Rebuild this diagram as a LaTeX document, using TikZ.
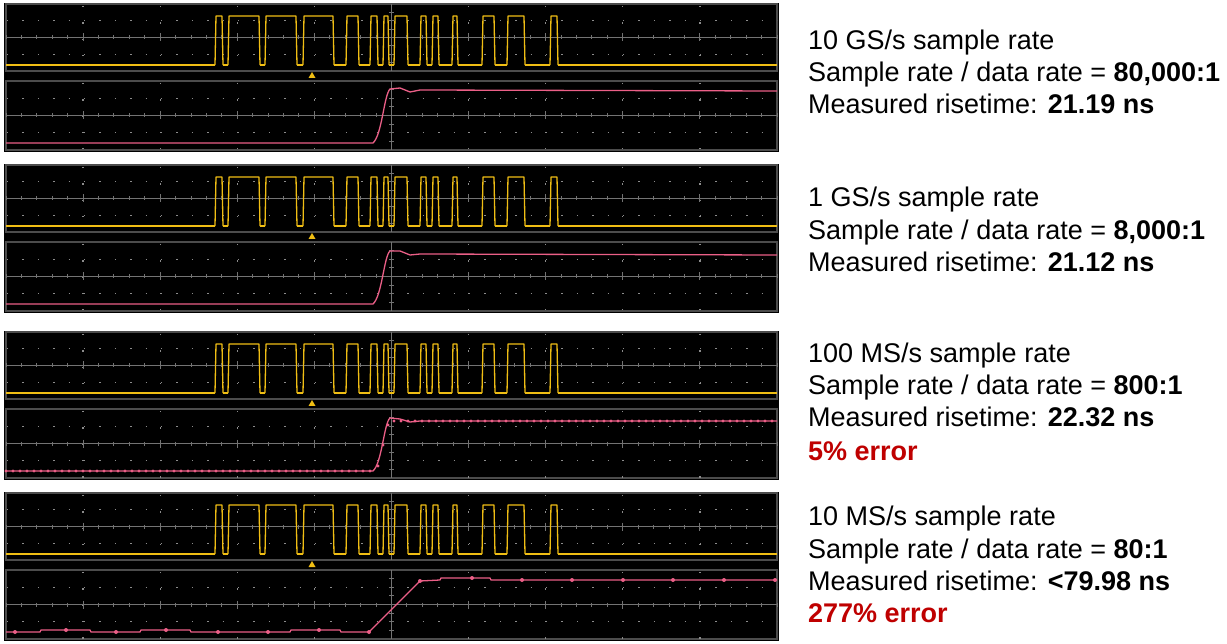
\documentclass[tikz,border=0pt]{standalone}
\usepackage{fontspec}
\setmainfont{Liberation Sans}
\definecolor{pk}{RGB}{235,95,135}
\definecolor{yl}{RGB}{240,190,20}
\begin{document}
\begin{tikzpicture}[x=1pt,y=-1pt,
  dotrow/.style={draw=black!45,line width=1.3,dash pattern=on 1.3 off 14.1},
  axis/.style={draw=black!55,line width=1},
  ytrace/.style={draw=yl,line width=1.3,line join=round},
  ptrace/.style={draw=pk,line width=1.3},
  lbl/.style={anchor=base west,inner sep=0,font=\fontsize{27}{30}\selectfont},
  err/.style={lbl,text=red!75!black,font=\fontsize{27}{30}\selectfont\bfseries}]
\useasboundingbox (0,0) rectangle (1227,644);
\fill[white] (0,0) rectangle (1227,644);
\newcommand\myscreen[2]{% top, bottom
  \pgfmathsetmacro\sa{#1}\pgfmathsetmacro\sb{#2}%
  \pgfmathsetmacro\mc{(\sa+\sb)/2}\pgfmathsetmacro\qa{\sa+(\sb-\sa)/4}\pgfmathsetmacro\qb{\sa+3*(\sb-\sa)/4}%
  \draw[black!70,line width=1.2] (6,\sa) rectangle (777,\sb);
  \draw[dotrow] (7,\qa) -- (777,\qa);
  \draw[dotrow] (7,\qb) -- (777,\qb);
  \foreach \kk in {1,...,9}{\draw[dotrow,dash pattern=on 1.3 off 15] (6+77.1*\kk,\sa+2) -- (6+77.1*\kk,\sb);}
  \draw[axis] (6,\mc) -- (777,\mc);
  \foreach \kk in {0,...,50}{\draw[axis] (6+15.42*\kk,\mc-2) -- (6+15.42*\kk,\mc+2);}
  \foreach \kk in {1,...,9}{\draw[axis] (6+77.1*\kk,\mc-4) -- (6+77.1*\kk,\mc+4);}
  \draw[axis] (391.5,\sa) -- (391.5,\sb);
  \foreach \kk in {1,...,7}{\draw[axis] (389,\sa+\kk*\sb/8-\kk*\sa/8) -- (394,\sa+\kk*\sb/8-\kk*\sa/8);}
}
\newcommand\ytr[1]{%
  \pgfmathsetmacro\lo{#1+61}\pgfmathsetmacro\hi{#1+12}\pgfmathsetmacro\tr{#1+67}\pgfmathsetmacro\tb{#1+74}%
  \foreach \pa/\pb in {215/222,228/259,265/296,303/333,346/358,370/377,383/388,394/407,420/426,432/438,452/457,482/494,507/524,550/557}{\draw[ytrace] (\pa,\lo) -- (\pa+1,\hi) -- (\pb,\hi) -- (\pb+1,\lo);}
  \foreach \pa/\pb in {6/215,223/228,260/265,297/303,334/346,359/370,378/383,389/394,408/420,427/432,439/452,458/482,495/507,525/550,558/777}{\draw[ytrace] (\pa,\lo) -- (\pb,\lo);}
  \fill[yl] (312,\tr+1) -- (308.5,\tb) -- (315.5,\tb) -- cycle;
}
\foreach \T in {4,165,332,493}{
  \fill[black] (4,\T-1) rectangle (779,\T+148);
  \myscreen{\T}{\T+67}
  \myscreen{\T+77}{\T+146}
  \ytr{\T}
}
% pink traces
\draw[ptrace] (6,143) -- (373,143) .. controls (382,135) and (384,95) .. (390,89) -- (400,88) -- (410,92) -- (420,90) -- (777,91);
\draw[ptrace] (6,304) -- (373,304) .. controls (382,296) and (384,256) .. (390,251) -- (400,251) -- (410,255) -- (420,254) -- (777,255);
\draw[ptrace] (6,471) -- (373,471) .. controls (382,463) and (384,423) .. (390,418) -- (400,419) -- (410,422) -- (420,421) -- (777,421);
\foreach \xx in {6,13,...,370}{\fill[pk] (\xx,471) circle (1.6);}
\foreach \xx in {394,401,...,777}{\fill[pk] (\xx,421) circle (1.6);}
\fill[pk] (378,466) circle (1.6) (383,445) circle (1.6) (388,425) circle (1.6);
\draw[ptrace] (6,632) -- (40,632) -- (41,630) -- (90,630) -- (91,632) -- (140,632) -- (141,630) -- (190,630) -- (191,632) -- (290,632) -- (291,630) -- (340,630) -- (341,632) -- (369,632) -- (420,581) -- (440,580) -- (441,578) -- (490,578) -- (491,580) -- (777,580);
\foreach \xx/\yy in {15/632,66/630,116/632,166/630,218/632,268/632,319/630,369/632,420/581,472/578,522/580,572/580,623/580,673/580,724/580,775/580}{\fill[pk] (\xx,\yy) circle (2);}
% labels
\node[lbl] (a1) at (808,50) {10 GS/s sample rate};
\node[lbl] (a2) at (808,82) {Sample rate / data rate = \textbf{80,000:1}};
\node[lbl] (a3) at (808,114) {Measured risetime: \textbf{21.19 ns}};
\node[lbl] (b1) at (808,207) {1 GS/s sample rate};
\node[lbl] (b2) at (808,240) {Sample rate / data rate = \textbf{8,000:1}};
\node[lbl] (b3) at (808,272) {Measured risetime: \textbf{21.12 ns}};
\node[lbl] (c1) at (808,363) {100 MS/s sample rate};
\node[lbl] (c2) at (808,395) {Sample rate / data rate = \textbf{800:1}};
\node[lbl] (c3) at (808,427) {Measured risetime: \textbf{22.32 ns}};
\node[err] (c4) at (808,460) {5\% error};
\node[lbl] (d1) at (808,525) {10 MS/s sample rate};
\node[lbl] (d2) at (808,558) {Sample rate / data rate = \textbf{80:1}};
\node[lbl] (d3) at (808,590) {Measured risetime: \textbf{<79.98 ns}};
\node[err] (d4) at (808,622) {277\% error};
\end{tikzpicture}
\end{document}
